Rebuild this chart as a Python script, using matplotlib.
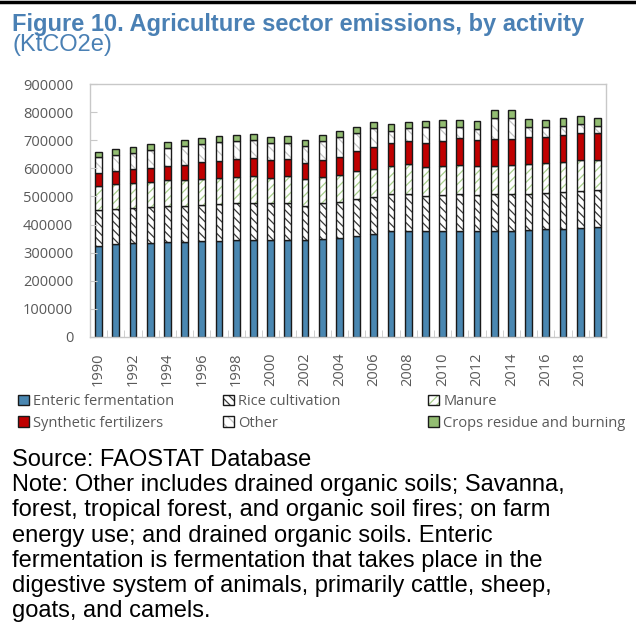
import matplotlib.pyplot as plt
import numpy as np
from matplotlib.lines import Line2D
from matplotlib.ticker import StrMethodFormatter

years = list(range(1990, 2020))

# KtCO2e
enteric = [324800, 329800, 333300, 335400, 336900, 339000, 340400, 341500, 344000, 344000,
           344000, 345000, 345000, 348600, 352100, 359300, 367500, 377000, 376000, 376000,
           376000, 376000, 376000, 376000, 377000, 380600, 383100, 385300, 388800, 390200]
rice = [125900, 125500, 125600, 125900, 128000, 127000, 129100, 131600, 131600, 132600,
        131600, 131600, 122000, 127000, 127100, 131600, 129500, 130600, 133800, 125500,
        129100, 131600, 129100, 131600, 130600, 129200, 130200, 131600, 131600, 131600]
manure = [87500, 87900, 88900, 91100, 92500, 92500, 92500, 92500, 93500, 95000,
          91000, 95000, 95000, 93500, 96000, 98500, 100600, 101800, 104500, 103200,
          102100, 103100, 103100, 101800, 104200, 104500, 104600, 106700, 108200, 108900]
synthetic = [44100, 46200, 48700, 47700, 50900, 54400, 59400, 60400, 64000, 64100,
             63000, 62600, 58000, 61600, 66200, 71200, 77200, 79700, 81800, 84400,
             91100, 97100, 92500, 93900, 93600, 96000, 92400, 93900, 98200, 93900]
other = [56900, 59100, 58000, 64000, 64000, 65500, 66200, 66600, 63000, 64000,
         60500, 56900, 58400, 65400, 68900, 64000, 68600, 44700, 47300, 57900,
         48700, 38100, 40300, 76800, 72500, 35600, 35600, 34200, 29900, 24900]
crops = [20000, 21300, 21400, 22400, 22400, 21300, 20200, 22400, 22400, 23400,
         22400, 22800, 21300, 22400, 22400, 23500, 22400, 23900, 22400, 22400,
         26000, 27100, 28400, 27400, 28500, 28500, 27100, 28400, 30600, 28400]

title_color = '#4a80b4'
grey = '#595959'

plt.rcParams['font.family'] = ['Open Sans', 'DejaVu Sans']
plt.rcParams['hatch.linewidth'] = 0.9

fig = plt.figure(figsize=(6.36, 6.24), dpi=100)
ax = fig.add_axes([90 / 636, 1 - 337 / 624, 516 / 636, 253 / 624])

# label, values, face colour, hatch, hatch colour
series = [
    ('Enteric fermentation', enteric, '#4a87b1', None, None),
    ('Rice cultivation', rice, 'white', '\\\\\\\\', '#3a3a3a'),
    ('Manure', manure, 'white', '////', '#a9d18e'),
    ('Synthetic fertilizers', synthetic, '#c00000', None, None),
    ('Other', other, 'white', '\\\\\\', '#c4c4c4'),
    ('Crops residue and burning', crops, '#93bd72', None, None),
]

x = np.arange(len(years))
width = 0.4
bottom = np.zeros(len(years))
handles = {}
for label, vals, face, hatch, hcol in series:
    vals = np.array(vals)
    if hatch:
        hb = ax.bar(x, vals, width, bottom=bottom, color=face, edgecolor=hcol,
                    hatch=hatch, linewidth=0)
        ob = ax.bar(x, vals, width, bottom=bottom, fill=False, edgecolor='#1a1a1a',
                    linewidth=1.0)
        handles[label] = (hb, ob)
    else:
        b = ax.bar(x, vals, width, bottom=bottom, color=face, edgecolor='#1a1a1a',
                   linewidth=1.0)
        handles[label] = b
    bottom += vals

ax.set_xlim(-0.5, len(years) - 0.5)
ax.set_ylim(0, 900000)
ax.set_yticks(np.arange(0, 900001, 100000))
ax.yaxis.set_major_formatter(StrMethodFormatter('{x:.0f}'))
ax.set_xticks(x[::2])
ax.set_xticklabels([str(y) for y in years[::2]], rotation=90)
ax.set_xticks(np.arange(-0.5, len(years), 1.0), minor=True)

for s in ax.spines.values():
    s.set_color('#c8c8c8')
    s.set_linewidth(1.0)
ax.tick_params(axis='y', direction='in', length=5, color='#c8c8c8', labelcolor=grey,
               labelsize=10.5, pad=12)
ax.tick_params(axis='x', which='major', length=0, labelcolor=grey, labelsize=10.5, pad=11)
ax.tick_params(axis='x', which='minor', direction='in', length=5, color='#c8c8c8')

# legends: three columns at fixed positions
cols = [('Enteric fermentation', 'Synthetic fertilizers'),
        ('Rice cultivation', 'Other'),
        ('Manure', 'Crops residue and burning')]
col_x = [18, 223, 428]
for (a, b), cx in zip(cols, col_x):
    fig.legend([handles[a], handles[b]], [a, b], loc='upper left',
               bbox_to_anchor=(cx / 636, 1 - 394 / 624), frameon=False,
               fontsize=10.5, labelcolor=grey, handlelength=0.75, handleheight=0.75,
               handletextpad=0.3, labelspacing=0.45, borderpad=0, borderaxespad=0)

# header
fig.add_artist(Line2D([0, 1], [1 - 1.5 / 624, 1 - 1.5 / 624], color='black', linewidth=2.5))
fig.text(12 / 636, 1 - 31 / 624, 'Figure 10. Agriculture sector emissions, by activity',
         fontsize=17, fontweight='bold', color=title_color, family='Liberation Sans',
         va='baseline')
fig.text(12 / 636, 1 - 51 / 624, '(KtCO2e)', fontsize=17, color=title_color,
         family='Liberation Sans', va='baseline')

note = ['Source: FAOSTAT Database',
        'Note: Other includes drained organic soils; Savanna,',
        'forest, tropical forest, and organic soil fires; on farm',
        'energy use; and drained organic soils. Enteric',
        'fermentation is fermentation that takes place in the',
        'digestive system of animals, primarily cattle, sheep,',
        'goats, and camels.']
for i, line in enumerate(note):
    fig.text(12 / 636, 1 - (466 + 25.2 * i) / 624, line, fontsize=17, color='black',
             family='Liberation Sans', va='baseline')

fig.savefig('out.png', dpi=100)
